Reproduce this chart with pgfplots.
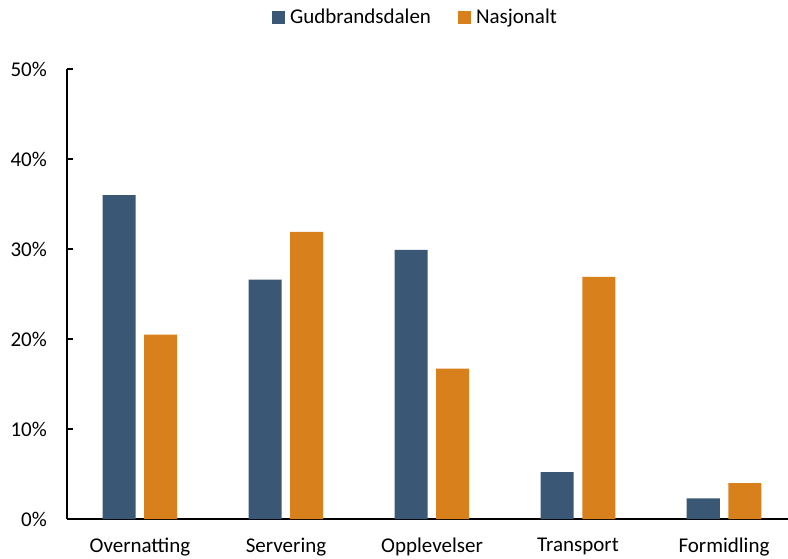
\documentclass[border=0pt]{standalone}
\usepackage{pgfplots}
\pgfplotsset{compat=1.18}
\usepackage{fontspec}
\setmainfont{Carlito}
\definecolor{gblue}{RGB}{58,87,117}
\definecolor{norange}{RGB}{216,128,27}
\begin{document}
\fontsize{21pt}{25pt}\selectfont
\begin{tikzpicture}
\path[use as bounding box] (-67pt,-39pt) rectangle (721pt,519pt);
\begin{axis}[
  at={(0,0)}, anchor=south west,
  scale only axis, width=730pt, height=450pt,
  xmin=-0.5, xmax=4.5, ymin=0, ymax=50,
  ybar=8.5pt, bar width=33pt,
  axis x line=bottom, axis y line=left,
  axis line style={line width=1.4pt, -},
  xtick=data,
  xticklabels={Overnatting,Servering,Opplevelser,Transport,Formidling},
  xtick style={draw=none},
  ytick={0,10,20,30,40,50},
  yticklabel={\pgfmathprintnumber{\tick}\%},
  /pgf/number format/assume math mode=true,
  tick align=inside, major tick length=6pt,
  ytick style={line width=1.2pt, black},
  tick label style={font=\fontsize{21pt}{25pt}\selectfont},
  yticklabel style={xshift=-13pt},
  xticklabel style={yshift=-12pt},
  legend columns=2,
  legend style={at={(350pt,501pt)}, anchor=center, draw=none,
    font=\fontsize{21pt}{25pt}\selectfont,
    /tikz/every even column/.append style={column sep=22pt},
    nodes={inner xsep=5pt}},
  legend image code/.code={\fill[#1] (0pt,-6.5pt) rectangle (13pt,6.5pt);},
]
\addplot[fill=gblue, draw=none] coordinates {(0,36.0) (1,26.6) (2,29.9) (3,5.2) (4,2.3)};
\addplot[fill=norange, draw=none] coordinates {(0,20.5) (1,31.9) (2,16.7) (3,26.9) (4,4.0)};
\legend{Gudbrandsdalen,Nasjonalt}
\end{axis}
\end{tikzpicture}
\end{document}
